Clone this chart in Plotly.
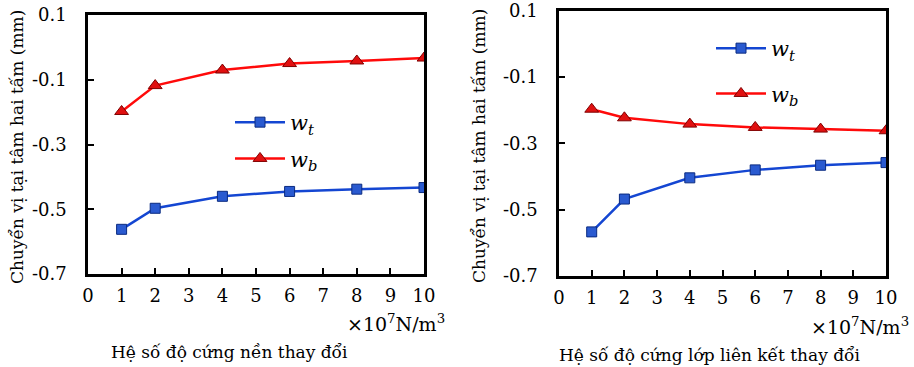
import plotly.graph_objects as go

x_vals = [1, 2, 4, 6, 8, 10]

# Left: nền (foundation) stiffness varies
left_wt = [-0.562, -0.497, -0.460, -0.445, -0.438, -0.433]
left_wb = [-0.198, -0.118, -0.070, -0.050, -0.042, -0.033]

# Right: interlayer stiffness varies
right_wt = [-0.567, -0.468, -0.404, -0.380, -0.366, -0.358]
right_wb = [-0.197, -0.223, -0.242, -0.252, -0.257, -0.262]

x_ticks = list(range(0, 11))
y_ticks = [0.1, -0.1, -0.3, -0.5, -0.7]
y_tick_text = ["0.1", "-0.1", "-0.3", "-0.5", "-0.7"]

name_wt = "<i>w<sub>t</sub></i>"
name_wb = "<i>w<sub>b</sub></i>"
y_title = "Chuyển vị tại tâm hai tấm (mm)"
x_title_left = "Hệ số độ cứng nền thay đổi"
x_title_right = "Hệ số độ cứng lớp liên kết thay đổi"
unit_text = "×10<sup>7</sup>N/m<sup>3</sup>"

BLUE = "#1446d2"
RED = "#ff0a0a"
FONT = "DejaVu Serif"

fig = go.Figure()

def add_pair(wt, wb, xa, ya, leg):
    fig.add_trace(go.Scatter(
        x=x_vals, y=wt, name=name_wt, mode="lines+markers",
        line=dict(color=BLUE, width=2.5),
        marker=dict(symbol="square", size=10, color="#2a5ad0",
                    line=dict(color="#0a2a80", width=1)),
        xaxis=xa, yaxis=ya, legend=leg, legendgroup=leg + "a"))
    fig.add_trace(go.Scatter(
        x=x_vals, y=wb, name=name_wb, mode="lines+markers",
        line=dict(color=RED, width=2.5),
        marker=dict(symbol="triangle-up", size=12, color="#e01010",
                    line=dict(color="#800000", width=1)),
        xaxis=xa, yaxis=ya, legend=leg, legendgroup=leg + "b"))

add_pair(left_wt, left_wb, "x", "y", "legend")
add_pair(right_wt, right_wb, "x2", "y2", "legend2")

def xaxis_cfg(domain, anchor):
    return dict(domain=domain, anchor=anchor, range=[0, 10], automargin=False,
                tickvals=x_ticks, ticks="inside", ticklen=6, tickwidth=1.5,
                tickcolor="black", showline=True, linecolor="black",
                linewidth=2.5, mirror=True, showgrid=False, zeroline=False,
                ticklabelstandoff=4, ticklabeloverflow="allow",
                tickfont=dict(family=FONT, size=18, color="black"))

def yaxis_cfg(domain, anchor):
    return dict(domain=domain, anchor=anchor, range=[-0.7, 0.1], automargin=False,
                tickvals=y_ticks, ticktext=y_tick_text, ticks="inside",
                ticklen=6, tickwidth=1.5, tickcolor="black", showline=True,
                linecolor="black", linewidth=2.5, mirror=True,
                showgrid=False, zeroline=False, ticklabelstandoff=15,
                ticklabeloverflow="allow",
                tickfont=dict(family=FONT, size=18, color="black"))

W, H = 914, 367
fig.update_layout(
    width=W, height=H,
    margin=dict(l=0, r=0, t=0, b=0, autoexpand=False),
    paper_bgcolor="white", plot_bgcolor="white",
    font=dict(family=FONT, color="black"),
    xaxis=xaxis_cfg([88 / W, 424 / W], "y"),
    yaxis=yaxis_cfg([1 - 274 / H, 1 - 15 / H], "x"),
    xaxis2=xaxis_cfg([559 / W, 886 / W], "y2"),
    yaxis2=yaxis_cfg([1 - 276 / H, 1 - 10.7 / H], "x2"),
    legend=dict(x=230 / W, y=1 - 102 / H, xanchor="left", yanchor="top",
                bgcolor="rgba(0,0,0,0)", font=dict(family=FONT, size=21),
                traceorder="grouped", tracegroupgap=6, itemwidth=50),
    legend2=dict(x=711 / W, y=1 - 28 / H, xanchor="left", yanchor="top",
                 bgcolor="rgba(0,0,0,0)", font=dict(family=FONT, size=21),
                 traceorder="grouped", tracegroupgap=15, itemwidth=50),
    showlegend=True,
)

annos = [
    dict(text=y_title, x=17 / W, y=1 - 147 / H, textangle=-90, s=17),
    dict(text=y_title, x=479 / W, y=1 - 146 / H, textangle=-90, s=17),
    dict(text=x_title_left, x=230 / W, y=1 - 352 / H, s=17),
    dict(text=x_title_right, x=709 / W, y=1 - 355 / H, s=17),
    dict(text=unit_text, x=396 / W, y=1 - 323 / H, s=19),
    dict(text=unit_text, x=860 / W, y=1 - 326 / H, s=19),
]
for a in annos:
    size = a.pop("s")
    fig.add_annotation(xref="paper", yref="paper", showarrow=False,
                       xanchor="center", yanchor="middle",
                       font=dict(family=FONT, size=size, color="black"), **a)

fig.write_html("out.html", config={"displayModeBar": False},
               post_script="document.body.style.margin='0';document.body.style.padding='0';")
